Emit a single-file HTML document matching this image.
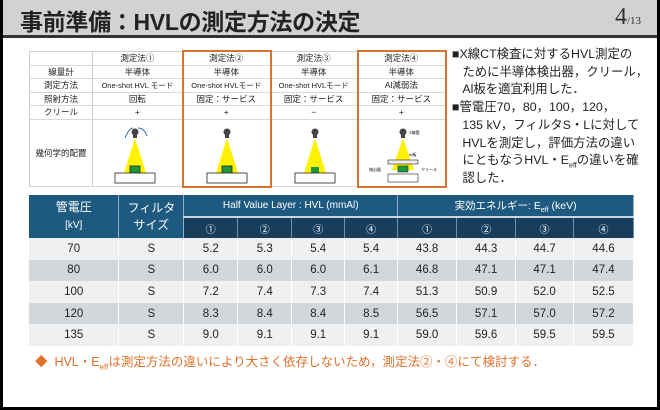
<!DOCTYPE html>
<html><head><meta charset="utf-8"><style>
*{margin:0;padding:0;box-sizing:border-box}
body{width:660px;height:410px;overflow:hidden;background:#000;font-family:"Liberation Sans","Noto Sans CJK JP",sans-serif;position:relative}
#pg{position:absolute;left:3px;top:0;width:654px;height:407px;background:#fff}
#hd{position:absolute;left:0;top:0;width:654px;height:38px;background:#d2d2d2;border-bottom:3px solid #333}
#hd .t{position:absolute;left:17px;top:3px;font-size:23px;font-weight:bold;color:#222;letter-spacing:-0.3px}
#hd .n{position:absolute;left:612px;top:4px;font-size:24px;color:#333;font-family:"Liberation Serif",serif}
#hd .n small{font-size:11px}
sub{line-height:0}
table{border-collapse:collapse;position:absolute}
#t1{left:26px;top:51px;width:416px;font-size:8.5px;color:#222}
#t1 td{border-bottom:1px solid #d8d8d8;border-left:1px solid #ccc;text-align:center;height:13.5px;padding:0;white-space:nowrap}
#t1 tr:first-child td{border-top:1px solid #ccc}
.ob{position:absolute;border:2px solid #d97230}
#rt{position:absolute;left:449px;top:46px;width:210px;font-size:12.4px;line-height:17.7px;color:#222;white-space:nowrap}
#t2{left:26px;top:195px;width:605px;font-size:11.5px;color:#222}
#t2 td{text-align:center;padding:0}
.h1{background:#1e5a80;color:#fff;height:22px;border-right:1px solid #8fb0c8;font-size:12px}
.h2{background:#173f5d;color:#fff;height:21px;border-right:1px solid #6d8fa8;border-top:2px solid #c8d6e0;font-size:10px}
.r td{height:21.6px;border-right:1px solid #fff}
.a td{background:#eff0f1}.b td{background:#d3d7dc}
#ft{position:absolute;left:32px;top:351px;font-size:12.5px;color:#e0702a}
</style></head><body><div id="pg">
<div id="hd"><div class="t">事前準備：HVLの測定方法の決定</div><div class="n">4<small>/13</small></div></div>

<table id="t1">
<colgroup><col style="width:63px"><col style="width:90px"><col style="width:88px"><col style="width:87px"><col style="width:88px"></colgroup>
<tr><td></td><td>測定法①</td><td>測定法②</td><td>測定法③</td><td>測定法④</td></tr>
<tr><td>線量計</td><td>半導体</td><td>半導体</td><td>半導体</td><td>半導体</td></tr>
<tr><td>測定方法</td><td style="font-size:7.5px">One-shot HVL モード</td><td style="font-size:7.5px">One-shot HVLモード</td><td style="font-size:7.5px">One-shot HVLモード</td><td>Al減弱法</td></tr>
<tr><td>照射方法</td><td>回転</td><td>固定：サービス</td><td>固定：サービス</td><td>固定：サービス</td></tr>
<tr><td>クリール</td><td>+</td><td>+</td><td>−</td><td>+</td></tr>
<tr><td style="height:67px">幾何学的配置</td><td></td><td></td><td></td><td></td></tr>
</table>
<svg style="position:absolute;left:0;top:0" width="654" height="200">
<g id="d1">
<circle cx="132" cy="132" r="3.5" fill="#444"/><rect x="130" y="134" width="4" height="4" fill="#444"/>
<polygon points="132,138 121,173 143,173" fill="#fff200"/>
<rect x="127" y="166" width="10" height="7" fill="#1a9a3c" stroke="#222" stroke-width="0.8"/>
<rect x="112" y="173" width="40" height="10" fill="#fff" stroke="#222" stroke-width="0.8"/>
</g>
<path d="M122 138 Q126 128 130 128" stroke="#2a6fb0" fill="none" stroke-width="1"/><path d="M135 128 Q141 128 144 136" stroke="#2a6fb0" fill="none" stroke-width="1"/>
<use href="#d1" x="92"/>
<g transform="translate(180,0)"><circle cx="132" cy="132" r="3.5" fill="#444"/><rect x="130" y="134" width="4" height="4" fill="#444"/>
<polygon points="132,138 121,173 143,173" fill="#fff200"/><rect x="128" y="167" width="8" height="6" fill="#1a9a3c"/>
<rect x="112" y="173" width="40" height="10" fill="#fff" stroke="#222" stroke-width="0.8"/></g>
<g transform="translate(268,0)"><circle cx="132" cy="132" r="3.5" fill="#444"/><rect x="130" y="134" width="4" height="4" fill="#444"/>
<polygon points="132,138 121,170 143,170" fill="#fff200"/>
<rect x="117" y="160" width="30" height="4" fill="#eee" stroke="#222" stroke-width="0.6"/>
<rect x="127" y="166" width="10" height="6" fill="#1a9a3c" stroke="#222" stroke-width="0.6"/>
<rect x="117" y="174" width="30" height="8" fill="#fff" stroke="#222" stroke-width="0.6"/>
<text x="138" y="134" font-size="4">X線管</text><text x="138" y="156" font-size="4">Al板</text>
<text x="98" y="171" font-size="4">検出器</text><text x="150" y="171" font-size="4">クリール</text></g>
</svg>
<div class="ob" style="left:179px;top:50px;width:90px;height:138px"></div>
<div class="ob" style="left:354px;top:50px;width:90px;height:138px"></div>

<div id="rt">■X線CT検査に対するHVL測定の<br>&nbsp;&nbsp;&nbsp;ために半導体検出器，クリール，<br>&nbsp;&nbsp;&nbsp;Al板を適宜利用した．<br>■管電圧70，80，100，120，<br>&nbsp;&nbsp;&nbsp;135 kV，フィルタS・Lに対して<br>&nbsp;&nbsp;&nbsp;HVLを測定し，評価方法の違い<br>&nbsp;&nbsp;&nbsp;にともなうHVL・E<sub style="font-size:7px">eff</sub>の違いを確<br>&nbsp;&nbsp;&nbsp;認した．</div>

<table id="t2">
<colgroup><col style="width:90px"><col style="width:65px"><col style="width:54px"><col style="width:54px"><col style="width:53px"><col style="width:53px"><col style="width:59px"><col style="width:59px"><col style="width:58px"><col style="width:60px"></colgroup>
<tr><td class="h1" rowspan="2" style="font-size:12px;line-height:17px">管電圧<br><span style="font-size:10px">[kV]</span></td><td class="h1" rowspan="2" style="line-height:17px">フィルタ<br>サイズ</td><td class="h1" colspan="4" style="font-size:10px">Half Value Layer : HVL (mmAl)</td><td class="h1" colspan="4" style="font-size:10.5px">実効エネルギー: E<sub style="font-size:7px">eff</sub> (keV)</td></tr>
<tr><td class="h2">①</td><td class="h2">②</td><td class="h2">③</td><td class="h2">④</td><td class="h2">①</td><td class="h2">②</td><td class="h2">③</td><td class="h2">④</td></tr>
<tr class="r a"><td>70</td><td>S</td><td>5.2</td><td>5.3</td><td>5.4</td><td>5.4</td><td>43.8</td><td>44.3</td><td>44.7</td><td>44.6</td></tr>
<tr class="r b"><td>80</td><td>S</td><td>6.0</td><td>6.0</td><td>6.0</td><td>6.1</td><td>46.8</td><td>47.1</td><td>47.1</td><td>47.4</td></tr>
<tr class="r a"><td>100</td><td>S</td><td>7.2</td><td>7.4</td><td>7.3</td><td>7.4</td><td>51.3</td><td>50.9</td><td>52.0</td><td>52.5</td></tr>
<tr class="r b"><td>120</td><td>S</td><td>8.3</td><td>8.4</td><td>8.4</td><td>8.5</td><td>56.5</td><td>57.1</td><td>57.0</td><td>57.2</td></tr>
<tr class="r a"><td>135</td><td>S</td><td>9.0</td><td>9.1</td><td>9.1</td><td>9.1</td><td>59.0</td><td>59.6</td><td>59.5</td><td>59.5</td></tr>
</table>
<div id="ft">◆&nbsp;&nbsp;HVL・E<sub style="font-size:8px">eff</sub>は測定方法の違いにより大さく依存しないため，測定法②・④にて検討する．</div>
</div></body></html>
